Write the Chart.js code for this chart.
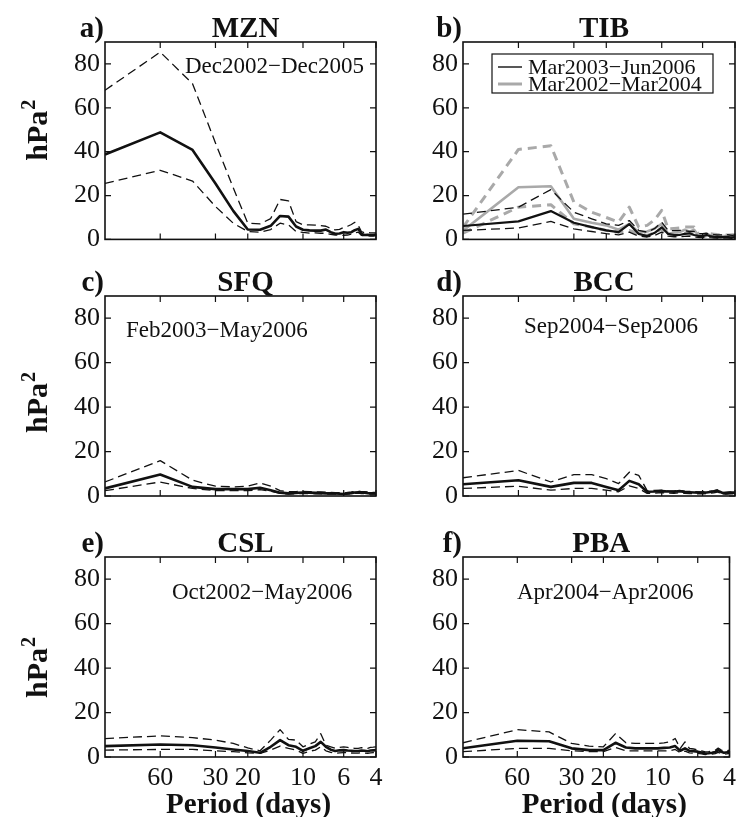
<!DOCTYPE html>
<html>
<head>
<meta charset="utf-8">
<title>Espectros</title>
<script src="https://cdn.jsdelivr.net/npm/chart.js@4.4.1/dist/chart.umd.min.js"></script>
<style>
  body { margin: 0; background: #fff; }
  #quadro { position: relative; width: 742px; height: 817px; overflow: hidden; background: #fff; }
  canvas { position: absolute; }
</style>
</head>
<body>
<div id="quadro">
  <canvas id="painelA" width="400" height="260" style="left:0px;top:0px"></canvas>
  <canvas id="painelB" width="362" height="260" style="left:380px;top:0px"></canvas>
  <canvas id="painelC" width="400" height="260" style="left:0px;top:260px"></canvas>
  <canvas id="painelD" width="362" height="260" style="left:380px;top:260px"></canvas>
  <canvas id="painelE" width="400" height="297" style="left:0px;top:520px"></canvas>
  <canvas id="painelF" width="362" height="297" style="left:380px;top:520px"></canvas>
</div>
<script>
Chart.defaults.font.family = "'Liberation Serif', 'Times New Roman', serif"
Chart.defaults.color = '#111'

// periods (days) of the spectral estimates, left to right
const periods = [120, 60, 40, 30, 24, 20, 17.14, 15, 13.33, 12, 10.91, 10, 9.23, 8.57, 8, 7.5, 7.06, 6.67, 6.32, 6, 5.71, 5.45, 5.22, 5, 4.8, 4.62, 4.44, 4.29, 4.14, 4]
const xTicks = [60, 30, 20, 10, 6, 4]
const yTicks = [0, 20, 40, 60, 80]

// a) MZN
const mznMean  = [38.7, 48.8, 40.8, 25.5, 13, 4.5, 4.4, 6.2, 10.7, 10.4, 5.9, 4.4, 4.1, 4.0, 4.0, 4.5, 3.3, 2.6, 2.7, 3.3, 3.0, 3.3, 4.2, 4.8, 2.5, 2.0, 2.1, 2.0, 2.0, 2.2]
const mznUpper = [68, 85.4, 71, 44, 23.5, 7.4, 7.1, 9.5, 18.2, 17.6, 8.1, 6.6, 6.6, 6.5, 6.3, 6.0, 5.0, 4.3, 4.6, 5.5, 6.0, 6.8, 7.8, 6.5, 3.5, 3.0, 3.1, 3.0, 3.0, 3.0]
const mznLower = [25.5, 31.5, 26.6, 15, 7.4, 3.6, 3.3, 4.5, 7.4, 6.6, 3.6, 3.2, 2.9, 3.0, 2.8, 2.8, 2.3, 2.0, 1.8, 1.9, 2.0, 2.4, 3.0, 3.3, 1.8, 1.5, 1.6, 1.5, 1.5, 1.7]

// b) TIB, two records
const tibMean   = [6.1, 8.2, 12.9, 7.6, 5.6, 4.1, 3.3, 7.0, 2.5, 1.5, 3.0, 5.5, 2.5, 2.0, 2.0, 2.5, 2.8, 2.0, 1.6, 1.5, 2.0, 1.5, 1.2, 1.0, 1.1, 1.0, 1.2, 1.0, 0.9, 1.0]
const tibUpper  = [11.5, 14.7, 22.7, 12.4, 9.4, 7.1, 6.4, 8.6, 4.1, 3.3, 5.0, 7.9, 4.1, 4.0, 4.1, 4.0, 3.6, 3.6, 2.6, 2.6, 2.8, 2.4, 2.2, 2.0, 2.1, 2.0, 2.2, 2.0, 1.8, 2.0]
const tibLower  = [4.1, 5.2, 8.2, 4.8, 3.6, 2.6, 2.1, 3.3, 1.5, 1.1, 1.8, 3.3, 1.5, 1.2, 1.2, 1.4, 1.5, 1.1, 0.9, 0.8, 1.0, 0.8, 0.7, 0.6, 0.7, 0.6, 0.7, 0.6, 0.5, 0.6]
const tib2Mean  = [4.0, 23.8, 24.2, 9.4, 7.6, 6.4, 4.4, 7.1, 3.3, 3.6, 5.0, 7.1, 2.6, 3.0, 3.3, 4.4, 3.5, 4.4, 1.8, 2.0, 2.6, 1.8, 1.5, 1.8, 1.6, 1.5, 1.5, 1.6, 1.5, 1.8]
const tib2Upper = [5.5, 41, 42.7, 17, 12.4, 10.0, 7.9, 14.7, 5.6, 6.4, 9.0, 13.2, 4.8, 5.0, 5.2, 5.6, 5.6, 5.6, 2.4, 1.8, 2.6, 2.6, 2.4, 2.2, 2.1, 2.0, 2.0, 2.0, 2.1, 2.1]
const tib2Lower = [2.8, 14.7, 15.8, 7.1, 5.6, 4.1, 3.3, 4.1, 2.6, 1.8, 3.0, 4.8, 1.8, 1.8, 2.0, 2.6, 2.2, 2.6, 1.2, 1.2, 1.6, 1.2, 1.0, 1.2, 1.0, 1.0, 1.0, 1.1, 1.0, 1.2]

// c) SFQ
const sfqMean  = [3.4, 9.7, 4.1, 3.1, 3.1, 3.1, 3.7, 2.6, 1.5, 1.2, 1.4, 1.6, 1.5, 1.4, 1.3, 1.2, 1.2, 1.1, 1.0, 0.9, 1.1, 1.3, 1.6, 1.7, 1.5, 1.5, 1.3, 1.2, 1.2, 1.2]
const sfqUpper = [6.3, 15.9, 7.1, 4.4, 4.1, 4.4, 5.9, 4.4, 2.4, 2.0, 2.0, 2.1, 2.0, 1.9, 1.8, 1.7, 1.6, 1.5, 1.5, 1.4, 1.6, 1.8, 2.1, 2.2, 2.0, 2.0, 1.8, 1.7, 1.6, 1.6]
const sfqLower = [2.4, 6.3, 3.4, 2.4, 2.4, 2.4, 2.9, 2.1, 1.2, 0.9, 1.0, 1.2, 1.1, 1.0, 1.0, 0.9, 0.9, 0.8, 0.7, 0.7, 0.8, 1.0, 1.2, 1.3, 1.1, 1.1, 1.0, 0.9, 0.9, 0.9]

// d) BCC
const bccMean  = [5.3, 7.1, 4.1, 5.9, 5.9, 4.1, 2.6, 6.8, 5.3, 1.9, 2.0, 2.2, 2.0, 1.9, 2.2, 1.8, 1.7, 1.6, 1.5, 1.5, 1.6, 1.8, 2.0, 2.4, 1.8, 1.2, 1.3, 1.4, 1.5, 1.5]
const bccUpper = [8.2, 11.5, 6.3, 9.6, 9.6, 7.8, 5.6, 10.7, 9.3, 2.4, 2.5, 2.6, 2.4, 2.3, 2.6, 2.2, 2.1, 2.0, 1.9, 1.9, 2.0, 2.2, 2.4, 2.8, 2.2, 1.6, 1.7, 1.8, 1.9, 1.9]
const bccLower = [3.4, 4.4, 2.6, 3.4, 3.4, 2.6, 1.9, 4.6, 3.4, 1.2, 1.3, 1.5, 1.3, 1.2, 1.5, 1.2, 1.1, 1.0, 1.0, 1.0, 1.1, 1.3, 1.4, 1.8, 1.3, 0.8, 0.9, 1.0, 1.0, 1.0]

// e) CSL
const cslMean  = [4.9, 5.6, 5.3, 4.3, 3.4, 2.7, 1.9, 4.6, 7.6, 5.3, 4.6, 2.8, 3.9, 4.9, 6.8, 4.6, 3.3, 2.7, 3.0, 3.1, 2.9, 2.8, 2.7, 2.7, 2.9, 2.8, 2.6, 2.9, 3.0, 3.1]
const cslUpper = [8.3, 9.5, 8.7, 7.6, 6.1, 4.1, 2.8, 7.6, 12.3, 7.9, 7.6, 4.6, 5.8, 6.8, 10.5, 5.3, 4.6, 3.9, 4.3, 4.6, 4.3, 4.0, 3.9, 3.9, 4.2, 4.1, 3.9, 4.3, 4.4, 4.6]
const cslLower = [3.1, 3.4, 3.4, 2.8, 2.4, 1.9, 1.6, 3.1, 4.9, 3.9, 3.1, 1.6, 2.6, 3.1, 4.6, 2.8, 2.1, 1.6, 1.9, 2.0, 1.9, 1.8, 1.7, 1.7, 1.9, 1.8, 1.6, 1.9, 2.0, 2.1]

// f) PBA
const pbaMean  = [3.9, 7.3, 7.1, 3.9, 3.1, 3.1, 6.4, 4.3, 3.9, 3.9, 3.9, 3.9, 4.1, 4.3, 4.9, 2.8, 3.9, 2.8, 2.6, 2.4, 2.0, 1.6, 1.7, 1.9, 2.2, 3.1, 2.3, 1.9, 2.1, 2.4]
const pbaUpper = [6.4, 12.3, 11.3, 6.1, 4.9, 4.6, 10.5, 6.4, 6.1, 6.1, 6.1, 6.1, 6.4, 6.8, 8.3, 3.9, 6.8, 3.9, 3.6, 3.2, 2.8, 2.3, 2.4, 2.6, 3.0, 4.0, 3.1, 2.6, 2.8, 3.1]
const pbaLower = [2.4, 3.9, 3.9, 2.8, 2.4, 2.4, 4.3, 2.8, 2.8, 2.8, 2.8, 2.8, 2.8, 2.8, 3.4, 1.9, 2.6, 1.9, 1.7, 1.6, 1.4, 1.1, 1.2, 1.3, 1.5, 2.1, 1.6, 1.3, 1.4, 1.6]

const stations = ['MZN', 'TIB', 'SFQ', 'BCC', 'CSL', 'PBA']
const letters = ['a)', 'b)', 'c)', 'd)', 'e)', 'f)']
const records = ['Dec2002\u2212Dec2005', '', 'Feb2003\u2212May2006', 'Sep2004\u2212Sep2006', 'Oct2002\u2212May2006', 'Apr2004\u2212Apr2006']
const tibRecords = ['Mar2003\u2212Jun2006', 'Mar2002\u2212Mar2004']

const black = '#111'
const grey = '#a9a9a9'
const serif = "'Liberation Serif', 'Times New Roman', serif"

function linha(values, color, width, dash) {
    return {
        data: values.map((v, i) => ({ x: periods[i], y: v })),
        borderColor: color,
        borderWidth: width,
        borderDash: dash || [],
        borderJoinStyle: 'round',
        pointRadius: 0,
        fill: false,
        tension: 0
    }
}

function trio(mean, upper, lower) {
    return [
        linha(upper, black, 1.3, [9, 5]),
        linha(lower, black, 1.3, [9, 5]),
        linha(mean, black, 2.6)
    ]
}

// frame, inward ticks, titles, axis labels, notes and legend
function moldura(n, cfg) {
    return {
        id: 'moldura' + n,
        afterDraw(chart) {
            let ctx = chart.ctx
            let a = chart.chartArea
            let sx = chart.scales.x
            let sy = chart.scales.y
            ctx.save()
            ctx.strokeStyle = '#111'
            ctx.lineWidth = 1.2
            ctx.beginPath()
            for (let v of xTicks) {
                let px = sx.getPixelForValue(v)
                ctx.moveTo(px, a.bottom); ctx.lineTo(px, a.bottom - 6)
                ctx.moveTo(px, a.top); ctx.lineTo(px, a.top + 6)
            }
            for (let v of yTicks) {
                let py = sy.getPixelForValue(v)
                ctx.moveTo(a.left, py); ctx.lineTo(a.left + 6, py)
                ctx.moveTo(a.right, py); ctx.lineTo(a.right - 6, py)
            }
            ctx.stroke()
            ctx.lineWidth = 1.6
            ctx.strokeRect(a.left, a.top, a.right - a.left, a.bottom - a.top)

            ctx.fillStyle = '#111'
            ctx.textBaseline = 'alphabetic'
            ctx.font = 'bold 29px ' + serif
            ctx.textAlign = 'center'
            ctx.fillText(stations[n], (a.left + a.right) / 2 + 5, a.top - 5)
            ctx.textAlign = 'right'
            ctx.fillText(letters[n], a.left - 1, a.top - 5)

            if (cfg.bottom) {
                ctx.textAlign = 'center'
                ctx.fillText('Period (days)', (a.left + a.right) / 2 + 8, a.bottom + 56)
            }

            if (cfg.left) {
                ctx.save()
                ctx.translate(47, (a.top + a.bottom) / 2 + cfg.ylab)
                ctx.rotate(-Math.PI / 2)
                ctx.font = 'bold 30px ' + serif
                let w1 = ctx.measureText('hPa').width
                ctx.font = 'bold 20px ' + serif
                let w2 = ctx.measureText('2').width
                let x0 = -(w1 + w2) / 2
                ctx.textAlign = 'left'
                ctx.font = 'bold 30px ' + serif
                ctx.fillText('hPa', x0, 0)
                ctx.font = 'bold 20px ' + serif
                ctx.fillText('2', x0 + w1 + 1, -12)
                ctx.restore()
            }

            if (records[n]) {
                ctx.font = '23px ' + serif
                ctx.textAlign = 'left'
                ctx.fillText(records[n], a.left + cfg.note[0], a.top + cfg.note[1])
            }

            if (cfg.legend) {
                let lx = a.left + 29
                let ly = a.top + 12
                ctx.fillStyle = '#fff'
                ctx.fillRect(lx, ly, 221, 39)
                ctx.lineWidth = 1.2
                ctx.strokeStyle = '#111'
                ctx.strokeRect(lx, ly, 221, 39)
                ctx.font = '22px ' + serif
                ctx.textAlign = 'left'
                ctx.textBaseline = 'alphabetic'
                cfg.legend.forEach((item, i) => {
                    let yy = ly + 13 + i * 17
                    ctx.strokeStyle = item.color
                    ctx.lineWidth = item.width
                    ctx.beginPath()
                    ctx.moveTo(lx + 6, yy); ctx.lineTo(lx + 30, yy)
                    ctx.stroke()
                    ctx.fillStyle = '#111'
                    ctx.fillText(item.label, lx + 36, ly + 20 + i * 16.5)
                })
            }
            ctx.restore()
        }
    }
}

function painel(n, cfg) {
    let tickFont = { family: serif, size: 26 }
    new Chart(document.getElementById(cfg.id), {
        type: 'line',
        data: { datasets: cfg.series },
        options: {
            responsive: false,
            animation: false,
            layout: { padding: { top: cfg.padTop, right: cfg.padRight, left: 0, bottom: 0 } },
            plugins: { legend: { display: false }, tooltip: { enabled: false } },
            scales: {
                x: {
                    type: 'logarithmic',
                    reverse: true,
                    min: 4,
                    max: 120,
                    grid: { display: false, drawTicks: false },
                    border: { display: false },
                    afterBuildTicks: (s) => { s.ticks = xTicks.map(v => ({ value: v })) },
                    afterFit: (s) => { s.height = cfg.xHeight },
                    ticks: {
                        display: cfg.bottom,
                        autoSkip: false,
                        maxRotation: 0,
                        padding: 6,
                        font: tickFont,
                        color: '#111',
                        callback: (v) => String(v)
                    },
                    title: { display: false }
                },
                y: {
                    min: 0,
                    max: 90,
                    grid: { display: false, drawTicks: false },
                    border: { display: false },
                    afterBuildTicks: (s) => { s.ticks = yTicks.map(v => ({ value: v })) },
                    afterFit: (s) => { s.width = cfg.yWidth },
                    ticks: { padding: 5, font: tickFont, color: '#111' },
                    title: { display: false }
                }
            }
        },
        plugins: [moldura(n, cfg)]
    })
}

let tibSeries = [
    linha(tibUpper, black, 1.3, [9, 5]),
    linha(tibLower, black, 1.3, [9, 5]),
    linha(tibMean, black, 2.2),
    linha(tib2Upper, grey, 3, [9, 6]),
    linha(tib2Lower, grey, 3, [9, 6]),
    linha(tib2Mean, grey, 2.6)
]

let paineis = [
    { id: 'painelA', series: trio(mznMean, mznUpper, mznLower), left: true, bottom: false, padTop: 42, padRight: 24, xHeight: 19, yWidth: 105, note: [80, 31], ylab: -10 },
    { id: 'painelB', series: tibSeries, left: false, bottom: false, padTop: 42, padRight: 7, xHeight: 19, yWidth: 83,
      legend: [{ label: tibRecords[0], color: black, width: 1.4 }, { label: tibRecords[1], color: grey, width: 3 }] },
    { id: 'painelC', series: trio(sfqMean, sfqUpper, sfqLower), left: true, bottom: false, padTop: 36, padRight: 24, xHeight: 24, yWidth: 105, note: [21, 41], ylab: 7 },
    { id: 'painelD', series: trio(bccMean, bccUpper, bccLower), left: false, bottom: false, padTop: 36, padRight: 7, xHeight: 24, yWidth: 83, note: [61, 37] },
    { id: 'painelE', series: trio(cslMean, cslUpper, cslLower), left: true, bottom: true, padTop: 37, padRight: 24, xHeight: 60, yWidth: 105, note: [67, 42], ylab: 11 },
    { id: 'painelF', series: trio(pbaMean, pbaUpper, pbaLower), left: false, bottom: true, padTop: 37, padRight: 7, xHeight: 60, yWidth: 83, note: [54, 42] }
]

window.onload = () => {
    paineis.forEach((cfg, n) => painel(n, cfg))
}
</script>
</body>
</html>
